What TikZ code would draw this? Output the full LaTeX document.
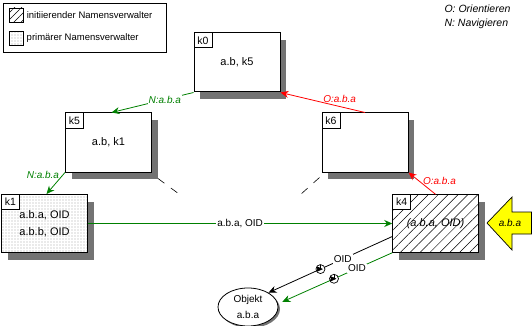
\documentclass[tikz,border=0pt]{standalone}
\usepackage{fontspec}
\setmainfont{Liberation Sans}
\usetikzlibrary{arrows.meta,shadows,shapes.geometric,patterns.meta}
\definecolor{nav}{RGB}{0,128,0}
\definecolor{ori}{RGB}{255,0,0}
\definecolor{anfrage}{RGB}{255,255,0}

\begin{document}
\begin{tikzpicture}[x=1pt,y=-1pt,
  font=\fontsize{10}{12}\selectfont,
  schatten/.style={drop shadow={shadow xshift=6pt,shadow yshift=-7pt,fill=black!55,opacity=1}},
  knoten/.style={draw,line width=1pt,minimum width=86pt,minimum height=59pt,schatten,
    preaction={fill=white},align=center,font=\fontsize{11}{17}\selectfont},
  kname/.style={draw,line width=0.8pt,fill=white,anchor=north west,minimum width=18pt,
    minimum height=15pt,inner sep=1pt,font=\fontsize{10.5}{12}\selectfont},
  schraffur/.style={pattern={Lines[angle=45,distance=7pt,line width=0.5pt]}},
  punkte/.style={pattern={Dots[distance=3pt,radius=0.4pt]}},
  pfeil/.style={-{Stealth[length=8pt,width=7pt]},line width=0.8pt},
  beschr/.style={font=\fontsize{10}{12}\selectfont\itshape},
  uhr/.style={circle,draw=black,line width=0.7pt,fill=white,inner sep=0pt,minimum size=9pt,
    path picture={\draw[black,line width=0.7pt] (path picture bounding box.north)
      -- (path picture bounding box.center) -- ++(2.5,0);}}
]
\useasboundingbox (0,0) rectangle (532,326);

% Legende
\node[draw,line width=0.6pt,minimum width=163pt,minimum height=49pt,anchor=north west] (legende) at (3,3) {};
\node[draw,minimum size=14pt,inner sep=0pt,pattern={Lines[angle=45,distance=5pt,line width=0.5pt]}] (lsym1) at (16,15) {};
\node[anchor=west,font=\fontsize{9.5}{11}\selectfont] (ltext1) at (lsym1.east) {initiierender Namensverwalter};
\node[draw,minimum size=14pt,inner sep=0pt,punkte] (lsym2) at (16,38) {};
\node[anchor=west,font=\fontsize{9.5}{11}\selectfont] (ltext2) at (lsym2.east) {primärer Namensverwalter};

\node[anchor=west,font=\fontsize{10.5}{12}\selectfont\itshape] (oleg) at (441,9) {O: Orientieren};
\node[anchor=west,font=\fontsize{10.5}{12}\selectfont\itshape] (nleg) at (441,24) {N: Navigieren};

% Namensverwalter
\node[knoten] (k0) at (237,62.5) {a.b, k5};
\node[kname] at (k0.north west) {k0};
\node[knoten] (k5) at (108.5,142.5) {a.b, k1};
\node[kname] at (k5.north west) {k5};
\node[knoten] (k6) at (365,142.5) {};
\node[kname] at (k6.north west) {k6};
\node[knoten,punkte,minimum height=58pt] (k1) at (44.5,223.5) {a.b.a, OID\\a.b.b, OID};
\node[kname] at (k1.north west) {k1};
\node[knoten,schraffur,minimum height=58pt,font=\fontsize{11}{12}\selectfont\itshape] (k4) at (435.5,223.5) {(a.b.a, OID)};
\node[kname] at (k4.north west) {k4};

% Anfrage
\draw[fill=anfrage,line width=0.7pt] (487,223) -- (512,197) -- (512,212) -- (531.5,212)
  -- (531.5,234) -- (512,234) -- (512,250) -- cycle;
\node[beschr] (anfr) at (510,223) {a.b.a};

% Objekt
\node[ellipse,draw,line width=0.8pt,fill=white,minimum width=60pt,minimum height=38pt,inner sep=0pt,
  align=center,font=\fontsize{10}{16}\selectfont,
  drop shadow={shadow xshift=2pt,shadow yshift=-2pt,fill=black!55,opacity=1}] (obj) at (248,307) {Objekt\\a.b.a};

% Navigieren
\draw[pfeil,draw=nav,nav] (k0.south west) -- node[pos=.35,fill=white,inner sep=1pt,beschr] {N:a.b.a} ([xshift=3pt]k5.north);
\draw[pfeil,draw=nav,nav] (k5.south west) -- node[pos=.12,left,beschr] {N:a.b.a} ([xshift=2pt]k1.north);
\draw[pfeil,nav,line width=1pt] (k1.east) -- node[fill=white,inner sep=1pt,text=black] {a.b.a, OID} (k4.west);

% Orientieren
\draw[pfeil,draw=ori,ori] (k6.north) -- node[pos=.3,above,beschr] {O:a.b.a} (k0.south east);
\draw[pfeil,draw=ori,ori] (k4.north) -- node[pos=.6,right,beschr] {O:a.b.a} (k6.south east);

% Antworten an das Objekt
\coordinate (s1) at ([yshift=-13pt]k4.west);
\draw[pfeil] (s1) -- node[pos=.58,uhr] {} node[pos=.4,fill=white,inner sep=1pt] {OID} (obj.35);
\draw[pfeil,draw=nav] (k4.south west) -- node[pos=.53,uhr] {} node[pos=.32,fill=white,inner sep=1pt,text=black] {OID} ([xshift=5pt]obj.10);

% angedeutete Verbindungen
\coordinate (d1) at (179,194);
\coordinate (d2) at (300,195);
\draw[dash pattern=on 8pt off 8pt,line width=0.6pt] ([xshift=6pt,yshift=-6pt]k5.south east) -- (d1);
\draw[dash pattern=on 8pt off 8pt,line width=0.6pt] ([xshift=-2pt,yshift=-5pt]k6.south west) -- (d2);
\end{tikzpicture}
\end{document}
